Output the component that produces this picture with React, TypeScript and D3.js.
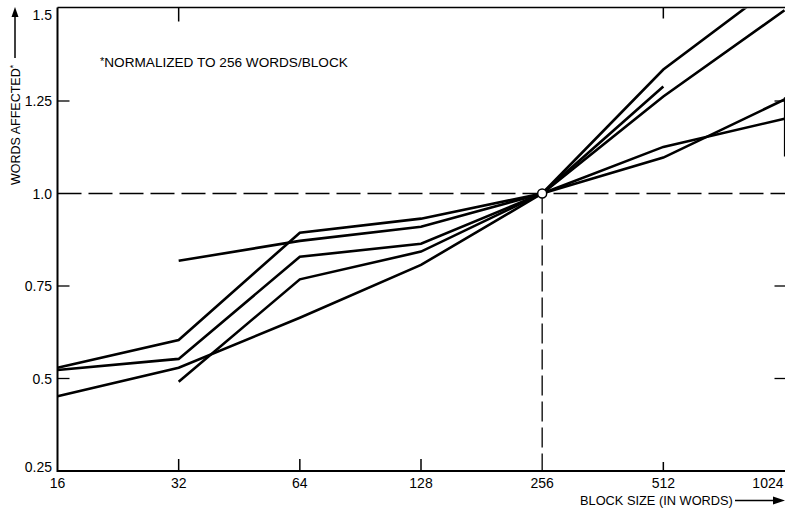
import React from "react";
import * as d3 from "d3";

const blockSizes = [16, 32, 64, 128, 256, 512, 1024];
const xTickLabels = ["16", "32", "64", "128", "256", "512", "1024"];
const yTickValues = [0.25, 0.5, 0.75, 1.0, 1.25, 1.5];
const yTickLabels = ["0.25", "0.5", "0.75", "1.0", "1.25", "1.5"];

// [block size, words affected (normalized)]
const seriesA = [[16, 0.529], [32, 0.604], [64, 0.894], [128, 0.932], [256, 1.0], [512, 1.335], [1024, 1.581]];
const seriesB = [[16, 0.523], [32, 0.553], [64, 0.829], [128, 0.864], [256, 1.0], [512, 1.262], [1024, 1.495]];
const seriesC = [[32, 0.818], [64, 0.872], [128, 0.91], [256, 1.0], [512, 1.289]];
const seriesD = [[32, 0.491], [64, 0.768], [128, 0.843], [256, 1.0], [512, 1.097], [1024, 1.254]];
const seriesE = [[16, 0.452], [32, 0.529], [64, 0.664], [128, 0.807], [256, 1.0], [512, 1.126], [1024, 1.202]];
const allSeries = [seriesA, seriesB, seriesC, seriesD, seriesE];

const leftInnerTicks = [1.25, 0.75, 0.5];
const rightInnerTicks = [1.25, 0.75, 0.5];
const topInnerTicks = [32, 512];
const bottomInnerTicks = [32, 64, 128, 512];

const referenceSize = 256;
const referenceValue = 1.0;

const annotation = "NORMALIZED TO 256 WORDS/BLOCK";
const yTitle = "WORDS AFFECTED";
const xTitle = "BLOCK SIZE (IN WORDS)";

const W = 785;
const H = 513;
const FONT = "'Liberation Sans', Arial, Helvetica, sans-serif";

export default function App() {
  const x = d3.scaleLog().base(2).domain([16, 1024]).range([57.5, 784.5]);
  const y = d3.scaleLinear().domain([0.25, 1.5]).range([471, 8.5]);
  const line = d3
    .line<number[]>()
    .x((d) => x(d[0]))
    .y((d) => y(d[1]));

  const x0 = x(16);
  const x1 = x(1024);
  const yTop = y(1.5);
  const yBot = y(0.25);

  return (
    <svg
      width={W}
      height={H}
      viewBox={`0 0 ${W} ${H}`}
      style={{ position: "absolute", left: 0, top: 0, background: "#fff" }}
      fontFamily={FONT}
    >
      <defs>
        <clipPath id="plotClip">
          <rect x={x0} y={yTop} width={x1 - x0 + 2} height={yBot - yTop} />
        </clipPath>
      </defs>
      <rect x={0} y={0} width={W} height={H} fill="#fff" />

      {/* frame */}
      <line x1={x0} y1={yTop - 1} x2={x0} y2={yBot + 1} stroke="#000" strokeWidth={2} />
      <line x1={x0} y1={yBot} x2={W} y2={yBot} stroke="#000" strokeWidth={2} />
      <line x1={x0} y1={yTop - 1} x2={W} y2={yTop - 1} stroke="#000" strokeWidth={1.5} />
      <line x1={x1} y1={y(1.26)} x2={x1} y2={y(1.1)} stroke="#000" strokeWidth={1.2} />

      {/* inner ticks */}
      {leftInnerTicks.map((v) => (
        <line key={"l" + v} x1={x0} x2={x0 + 12} y1={y(v)} y2={y(v)} stroke="#000" strokeWidth={1.3} />
      ))}
      {rightInnerTicks.map((v) => (
        <line key={"r" + v} x1={x1 + 1} x2={x1 - 10} y1={y(v)} y2={y(v)} stroke="#000" strokeWidth={1.3} />
      ))}
      {topInnerTicks.map((v) => (
        <line key={"t" + v} x1={x(v)} x2={x(v)} y1={yTop - 1} y2={yTop + (v === 32 ? 13 : 10)} stroke="#000" strokeWidth={1.5} />
      ))}
      {bottomInnerTicks.map((v) => (
        <line key={"b" + v} x1={x(v)} x2={x(v)} y1={yBot} y2={yBot - (v === 512 ? 9 : 12)} stroke="#000" strokeWidth={1.5} />
      ))}

      {/* dashed reference lines */}
      <line
        x1={x0}
        x2={W}
        y1={y(referenceValue)}
        y2={y(referenceValue)}
        stroke="#000"
        strokeWidth={1.3}
        strokeDasharray="24,7"
      />
      <line
        x1={x(referenceSize)}
        x2={x(referenceSize)}
        y1={y(referenceValue)}
        y2={yBot}
        stroke="#000"
        strokeWidth={1.3}
        strokeDasharray="20,6"
      />

      {/* curves */}
      <g clipPath="url(#plotClip)">
        {allSeries.map((s, i) => (
          <path
            key={i}
            d={line(s as number[][]) || ""}
            fill="none"
            stroke="#000"
            strokeWidth={2.6}
            strokeLinejoin="miter"
            strokeLinecap="butt"
          />
        ))}
      </g>

      <circle cx={x(referenceSize)} cy={y(referenceValue)} r={4.5} fill="#fff" stroke="#000" strokeWidth={1.5} />

      {/* y tick labels */}
      {yTickValues.map((v, i) => (
        <text
          key={"yl" + v}
          x={52}
          y={y(v) + (v === 1.5 ? 11 : v === 0.25 ? 1 : 5)}
          textAnchor="end"
          fontSize={14}
          fill="#000"
        >
          {yTickLabels[i]}
        </text>
      ))}

      {/* x tick labels */}
      {blockSizes.map((v, i) => (
        <text
          key={"xl" + v}
          x={v === 1024 ? x(v) - 1 : x(v)}
          y={488}
          textAnchor={v === 1024 ? "end" : "middle"}
          fontSize={14}
          fill="#000"
        >
          {xTickLabels[i]}
        </text>
      ))}

      {/* annotation */}
      <text x={100} y={67} fontSize={13.6} fill="#000">
        <tspan fontSize={11} dy={-2}>*</tspan>
        <tspan dy={2}>{annotation}</tspan>
      </text>

      {/* y title with arrow */}
      <text transform="translate(20,185) rotate(-90)" fontSize={12.5} fill="#000">
        {yTitle}
        <tspan fontSize={9} dy={-4}>*</tspan>
      </text>
      <line x1={15} x2={15} y1={58} y2={14} stroke="#000" strokeWidth={1.5} />
      <path d="M15,7 L11.5,17 L18.5,17 Z" fill="#000" />

      {/* x title with arrow */}
      <text x={580} y={505} fontSize={12.8} fill="#000">
        {xTitle}
      </text>
      <line x1={735} x2={776} y1={500.5} y2={500.5} stroke="#000" strokeWidth={1.5} />
      <path d="M785,500.5 L773,496.5 L773,504.5 Z" fill="#000" />
    </svg>
  );
}
